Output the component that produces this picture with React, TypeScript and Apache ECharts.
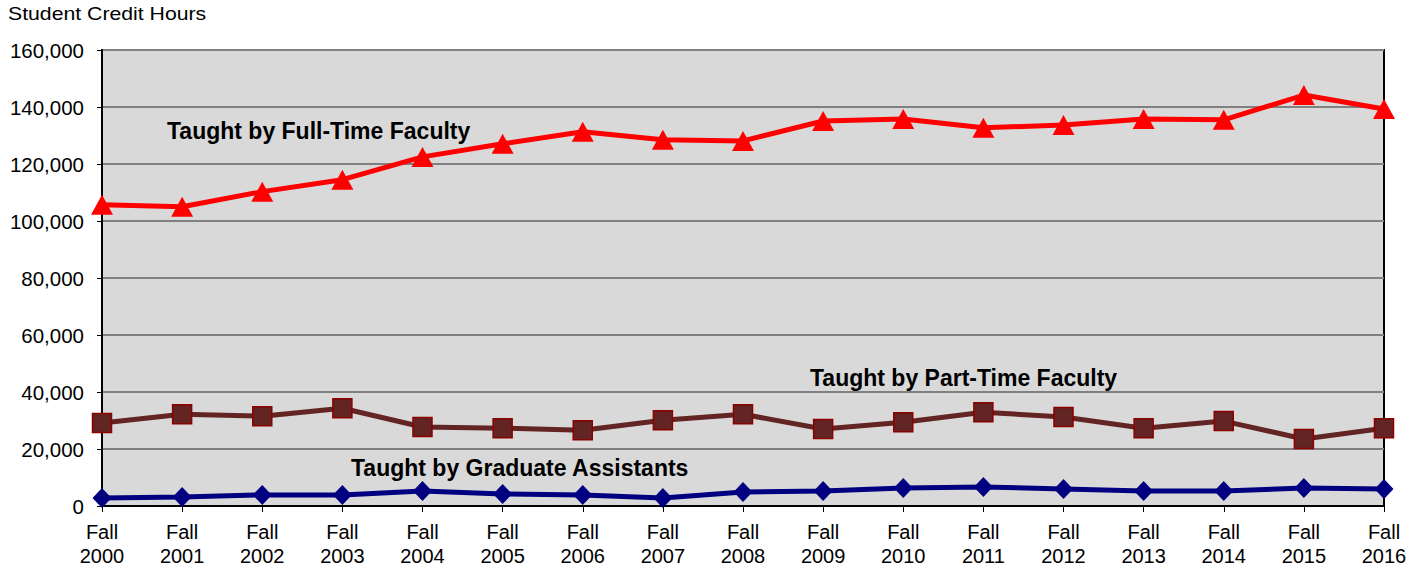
import React, { useEffect, useRef } from "react";
import * as echarts from "echarts";

const categories = [
  "Fall\n2000", "Fall\n2001", "Fall\n2002", "Fall\n2003", "Fall\n2004", "Fall\n2005",
  "Fall\n2006", "Fall\n2007", "Fall\n2008", "Fall\n2009", "Fall\n2010", "Fall\n2011",
  "Fall\n2012", "Fall\n2013", "Fall\n2014", "Fall\n2015", "Fall\n2016",
];
const fullTime = [105700, 105000, 110300, 114500, 122500, 127100, 131300, 128500, 128100, 135100, 135800, 132700, 133700, 135800, 135500, 144200, 139300];
const partTime = [29100, 32200, 31500, 34300, 27700, 27300, 26600, 30100, 32200, 27000, 29400, 32900, 31200, 27300, 29800, 23500, 27300];
const gradAssist = [2800, 3200, 3900, 3900, 5300, 4200, 3900, 2800, 4900, 5300, 6300, 6700, 6000, 5300, 5300, 6300, 6000];
const yTicks = { min: 0, max: 160000, interval: 20000 };

const FONT = "'Liberation Sans', Arial, sans-serif";

export default function App() {
  const ref = useRef<HTMLDivElement>(null);
  useEffect(() => {
    if (!ref.current) return;
    const chart = echarts.init(ref.current, undefined, { renderer: "svg" });
    chart.setOption({
      animation: false,
      textStyle: { fontFamily: FONT },
      grid: {
        left: 102, right: 39, top: 50, bottom: 61,
        show: true, backgroundColor: "#d9d9d9", borderColor: "#000", borderWidth: 2,
      },
      xAxis: {
        type: "category",
        data: categories,
        boundaryGap: false,
        axisLine: { lineStyle: { color: "#000", width: 2 } },
        axisTick: { show: true, length: 6, lineStyle: { color: "#000" } },
        axisLabel: { color: "#000", fontSize: 20, lineHeight: 24, margin: 14, fontFamily: FONT, interval: 0 },
        splitLine: { show: false },
      },
      yAxis: {
        type: "value",
        min: yTicks.min, max: yTicks.max, interval: yTicks.interval,
        axisLine: { show: true, lineStyle: { color: "#000", width: 2 } },
        axisTick: { show: true, length: 5, lineStyle: { color: "#000" } },
        axisLabel: {
          color: "#000", fontSize: 20.5, margin: 18, fontFamily: FONT,
          formatter: (v: number) => v.toString().replace(/\B(?=(\d{3})+(?!\d))/g, ","),
        },
        splitLine: { show: true, lineStyle: { color: "#808080", width: 2 } },
      },
      series: [
        {
          name: "Taught by Full-Time Faculty", type: "line", data: fullTime,
          symbol: "triangle", symbolSize: [22, 20],
          lineStyle: { color: "#ff0000", width: 5 },
          itemStyle: { color: "#ff0000" },
        },
        {
          name: "Taught by Part-Time Faculty", type: "line", data: partTime,
          symbol: "rect", symbolSize: 19,
          lineStyle: { color: "#632523", width: 5 },
          itemStyle: { color: "#632523", borderColor: "#8b0000", borderWidth: 1.5 },
        },
        {
          name: "Taught by Graduate Assistants", type: "line", data: gradAssist,
          symbol: "diamond", symbolSize: [19, 20],
          lineStyle: { color: "#000080", width: 5 },
          itemStyle: { color: "#000080" },
        },
      ],
      graphic: [
        { type: "text", x: 8, y: 14, scaleX: 1.18, style: { text: "Student Credit Hours", fontSize: 18, fill: "#000", fontFamily: FONT, verticalAlign: "middle" } },
        { type: "text", x: 167, y: 131, style: { text: "Taught by Full-Time Faculty", fontSize: 23, fontWeight: "bold", fill: "#000", fontFamily: FONT, verticalAlign: "middle" } },
        { type: "text", x: 810, y: 378, style: { text: "Taught by Part-Time Faculty", fontSize: 23, fontWeight: "bold", fill: "#000", fontFamily: FONT, verticalAlign: "middle" } },
        { type: "text", x: 351, y: 468, style: { text: "Taught by Graduate Assistants", fontSize: 23, fontWeight: "bold", fill: "#000", fontFamily: FONT, verticalAlign: "middle" } },
      ],
    });
    return () => chart.dispose();
  }, []);
  return <div ref={ref} style={{ width: 1423, height: 568, position: "absolute", left: 0, top: 0 }} />;
}
